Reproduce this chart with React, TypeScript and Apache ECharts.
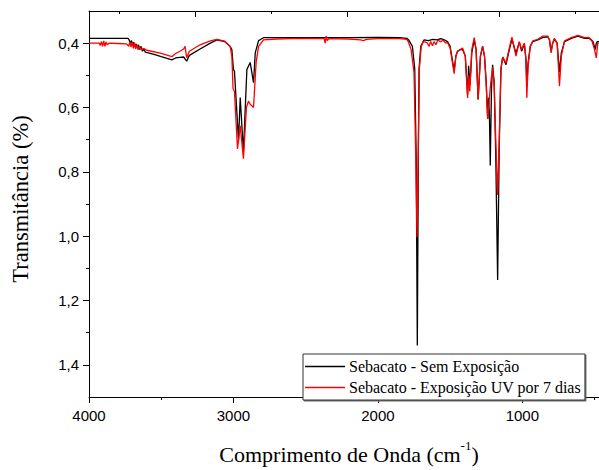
import React, { useEffect, useRef } from 'react';
import * as echarts from 'echarts';

// Sebacato - Sem Exposição (black)
const semWn = [4000, 3900, 3800, 3730, 3722, 3714, 3706, 3698, 3690, 3682, 3674, 3666, 3658, 3650, 3640, 3630, 3620, 3610, 3550, 3500, 3426, 3400, 3370, 3345, 3324, 3305, 3231, 3160, 3115, 3060, 3023, 3011, 3000, 2993, 2965, 2953, 2931, 2907, 2884, 2861, 2849, 2826, 2792, 2600, 2400, 2200, 2000, 1850, 1800, 1787, 1761, 1745, 1735, 1727, 1720, 1715, 1703, 1681, 1650, 1620, 1590, 1565, 1540, 1518, 1500, 1472, 1460, 1449, 1430, 1414, 1395, 1379, 1372, 1362, 1350, 1333, 1320, 1306, 1290, 1275, 1262, 1250, 1240, 1234, 1228, 1222, 1214, 1206, 1195, 1184, 1171, 1160, 1148, 1136, 1113, 1090, 1072, 1044, 1021, 1005, 986, 975, 969, 960, 945, 928, 893, 858, 824, 812, 801, 790, 778, 759, 743, 730, 708, 661, 615, 569, 540, 511, 495, 488, 480, 450, 400];
const semT = [0.385, 0.385, 0.385, 0.385, 0.39, 0.4, 0.392, 0.405, 0.397, 0.412, 0.402, 0.415, 0.405, 0.42, 0.41, 0.425, 0.418, 0.428, 0.435, 0.442, 0.452, 0.446, 0.444, 0.443, 0.456, 0.438, 0.418, 0.4, 0.39, 0.395, 0.41, 0.42, 0.482, 0.487, 0.703, 0.569, 0.739, 0.482, 0.46, 0.523, 0.43, 0.392, 0.383, 0.383, 0.383, 0.383, 0.382, 0.383, 0.385, 0.39, 0.41, 0.48, 0.75, 1.34, 0.75, 0.48, 0.41, 0.39, 0.392, 0.388, 0.39, 0.386, 0.39, 0.395, 0.41, 0.485, 0.44, 0.426, 0.42, 0.42, 0.44, 0.56, 0.47, 0.53, 0.43, 0.39, 0.42, 0.575, 0.44, 0.41, 0.44, 0.52, 0.636, 0.57, 0.62, 0.78, 0.55, 0.467, 0.52, 0.75, 1.136, 0.72, 0.48, 0.443, 0.467, 0.42, 0.388, 0.431, 0.397, 0.425, 0.402, 0.45, 0.534, 0.46, 0.41, 0.395, 0.39, 0.382, 0.38, 0.39, 0.426, 0.4, 0.388, 0.4, 0.49, 0.43, 0.395, 0.385, 0.378, 0.385, 0.384, 0.395, 0.42, 0.4, 0.395, 0.395, 0.395];

// Sebacato - Exposição UV por 7 dias (red)
const uvWn = [4000, 3960, 3930, 3922, 3914, 3906, 3898, 3890, 3882, 3874, 3860, 3800, 3740, 3725, 3717, 3709, 3701, 3693, 3685, 3677, 3669, 3661, 3650, 3640, 3620, 3600, 3500, 3426, 3400, 3370, 3345, 3335, 3324, 3305, 3231, 3160, 3115, 3060, 3023, 3011, 3003, 2993, 2972, 2953, 2931, 2910, 2896, 2884, 2861, 2843, 2826, 2792, 2700, 2600, 2500, 2400, 2372, 2365, 2358, 2350, 2340, 2200, 2120, 2100, 2080, 2000, 1850, 1800, 1790, 1770, 1750, 1738, 1729, 1721, 1713, 1700, 1685, 1660, 1645, 1635, 1622, 1610, 1598, 1585, 1565, 1550, 1530, 1518, 1500, 1472, 1460, 1449, 1430, 1414, 1395, 1379, 1372, 1364, 1350, 1333, 1320, 1306, 1290, 1275, 1262, 1250, 1240, 1230, 1218, 1206, 1195, 1184, 1171, 1160, 1148, 1136, 1113, 1090, 1072, 1044, 1021, 1005, 986, 975, 969, 960, 945, 928, 893, 858, 824, 812, 801, 790, 778, 759, 743, 730, 708, 661, 615, 569, 540, 520, 500, 488, 478, 450, 400];
const uvT = [0.4, 0.4, 0.4, 0.407, 0.395, 0.41, 0.393, 0.41, 0.396, 0.405, 0.4, 0.401, 0.402, 0.41, 0.395, 0.412, 0.397, 0.416, 0.401, 0.418, 0.405, 0.42, 0.41, 0.42, 0.417, 0.422, 0.432, 0.442, 0.432, 0.425, 0.418, 0.41, 0.445, 0.425, 0.405, 0.393, 0.388, 0.394, 0.41, 0.44, 0.54, 0.55, 0.729, 0.657, 0.759, 0.6, 0.58, 0.59, 0.6, 0.46, 0.41, 0.39, 0.387, 0.386, 0.385, 0.386, 0.386, 0.4, 0.378, 0.392, 0.386, 0.387, 0.39, 0.392, 0.388, 0.386, 0.386, 0.388, 0.395, 0.42, 0.49, 0.75, 1.003, 0.75, 0.48, 0.41, 0.395, 0.398, 0.41, 0.395, 0.408, 0.395, 0.405, 0.39, 0.396, 0.39, 0.4, 0.398, 0.415, 0.495, 0.44, 0.425, 0.42, 0.415, 0.44, 0.57, 0.5, 0.55, 0.42, 0.383, 0.42, 0.575, 0.44, 0.41, 0.44, 0.53, 0.636, 0.58, 0.52, 0.475, 0.53, 0.7, 0.872, 0.7, 0.48, 0.443, 0.462, 0.415, 0.381, 0.44, 0.395, 0.42, 0.4, 0.45, 0.57, 0.47, 0.41, 0.393, 0.388, 0.378, 0.378, 0.39, 0.43, 0.4, 0.385, 0.4, 0.534, 0.44, 0.393, 0.383, 0.376, 0.383, 0.382, 0.39, 0.42, 0.446, 0.4, 0.398, 0.4];

const seriesNames = ['Sebacato - Sem Exposição', 'Sebacato - Exposição UV por 7 dias'];
const seriesColors = ['#000000', '#ff0000'];

const xLabelTicks = [4000, 3000, 2000, 1000];
const xMinorTicks = [3500, 2500, 1500, 500];
const topMajorTicks = [3266, 2210, 1162];
const topMinorTicks = [3794, 2738, 1683, 634];
const yLabelTicks = [0.4, 0.6, 0.8, 1.0, 1.2, 1.4];
const yMinorTicks = [0.5, 0.7, 0.9, 1.1, 1.3];

const sans = '"Liberation Sans", Arial, sans-serif';
const serif = '"Liberation Serif", "Times New Roman", serif';

export default function App() {
  const ref = useRef<HTMLDivElement>(null);
  useEffect(() => {
    if (!ref.current) return;
    const chart = echarts.init(ref.current, undefined, { renderer: 'svg' });
    const zip = (a: number[], b: number[]) => a.map((v, i) => [v, b[i]]);
    const black = { color: '#000' };
    const baseX: any = {
      type: 'value', inverse: true, min: 400, max: 4000, gridIndex: 0,
      splitLine: { show: false },
    };
    const baseY: any = {
      type: 'value', inverse: true, min: 0.3, max: 1.5, gridIndex: 0,
      splitLine: { show: false },
    };
    chart.setOption({
      animation: false,
      backgroundColor: '#fff',
      grid: { left: 89, right: 0, top: 11, bottom: 69, containLabel: false },
      legend: {
        orient: 'vertical',
        left: 303,
        top: 354,
        data: seriesNames.map((n) => ({ name: n, icon: 'rect' })),
        itemWidth: 40,
        itemHeight: 1.5,
        itemGap: 0,
        padding: [2, 4, 2, 2],
        borderColor: '#333',
        borderWidth: 1,
        backgroundColor: '#fff',
        shadowColor: '#666',
        shadowOffsetX: 1,
        shadowOffsetY: 1,
        shadowBlur: 0,
        textStyle: { fontFamily: serif, fontSize: 16, lineHeight: 21, color: '#000', padding: [0, 0, 0, -1] },
      },
      xAxis: [
        {
          ...baseX, position: 'bottom',
          axisLine: { show: true, onZero: false, lineStyle: { ...black, width: 1 } },
          axisTick: { show: true, inside: false, length: 6, customValues: xLabelTicks, lineStyle: black },
          axisLabel: {
            show: true, customValues: xLabelTicks, color: '#000', fontFamily: sans, fontSize: 15, margin: 11,
            formatter: (v: number) => String(v),
          },
          name: '{a|Comprimento de Onda (cm}{s|-1}{a|)}',
          nameLocation: 'middle',
          nameGap: 42,
          nameTextStyle: {
            rich: {
              a: { fontFamily: serif, fontSize: 22, color: '#000', lineHeight: 26, verticalAlign: 'bottom' },
              s: { fontFamily: serif, fontSize: 13, color: '#000', lineHeight: 26, verticalAlign: 'top' },
            },
          },
        },
        {
          ...baseX, position: 'bottom',
          axisLine: { show: false, onZero: false },
          axisTick: { show: true, inside: false, length: 3, customValues: xMinorTicks, lineStyle: black },
          axisLabel: { show: false },
        },
        {
          ...baseX, position: 'top',
          axisLine: { show: true, onZero: false, lineStyle: { ...black, width: 1 } },
          axisTick: { show: true, inside: true, length: 6, customValues: topMajorTicks, lineStyle: black },
          axisLabel: { show: false },
        },
        {
          ...baseX, position: 'top',
          axisLine: { show: false, onZero: false },
          axisTick: { show: true, inside: true, length: 3, customValues: topMinorTicks, lineStyle: black },
          axisLabel: { show: false },
        },
      ],
      yAxis: [
        {
          ...baseY, position: 'left',
          axisLine: { show: true, onZero: false, lineStyle: { ...black, width: 1 } },
          axisTick: { show: true, inside: false, length: 6, customValues: yLabelTicks, lineStyle: black },
          axisLabel: {
            show: true, customValues: yLabelTicks, color: '#000', fontFamily: sans, fontSize: 15, margin: 10,
            formatter: (v: number) => v.toFixed(1).replace('.', ','),
          },
          name: 'Transmitância (%)',
          nameLocation: 'middle',
          nameGap: 57,
          nameRotate: 90,
          nameTextStyle: { fontFamily: serif, fontSize: 22.5, color: '#000', padding: [0, 0, 0, 10] },
        },
        {
          ...baseY, position: 'left',
          axisLine: { show: false, onZero: false },
          axisTick: { show: true, inside: false, length: 3, customValues: yMinorTicks, lineStyle: black },
          axisLabel: { show: false },
        },
      ],
      series: [
        {
          name: seriesNames[0], type: 'line', xAxisIndex: 0, yAxisIndex: 0,
          data: zip(semWn, semT), symbol: 'none', showSymbol: false,
          lineStyle: { color: seriesColors[0], width: 1.3 }, itemStyle: { color: seriesColors[0] },
        },
        {
          name: seriesNames[1], type: 'line', xAxisIndex: 0, yAxisIndex: 0,
          data: zip(uvWn, uvT), symbol: 'none', showSymbol: false,
          lineStyle: { color: seriesColors[1], width: 1.3 }, itemStyle: { color: seriesColors[1] },
        },
      ],
    });
    return () => chart.dispose();
  }, []);
  return (
    <div style={{ position: 'absolute', left: 0, top: 0, width: 599, height: 470, overflow: 'hidden' }}>
      <div ref={ref} style={{ width: 609, height: 470 }} />
    </div>
  );
}
